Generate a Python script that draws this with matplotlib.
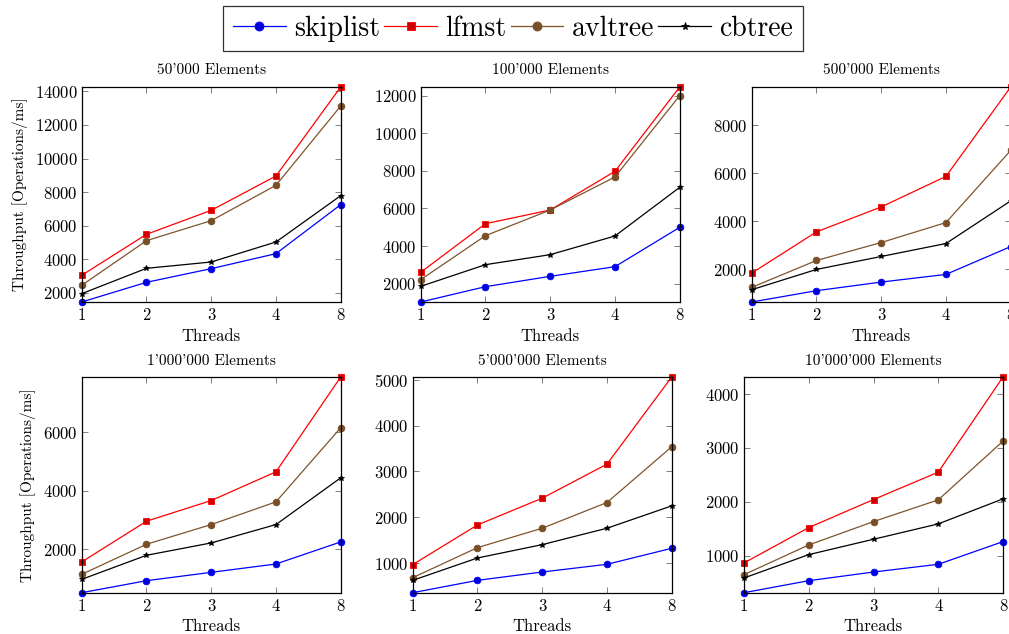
import matplotlib
matplotlib.use("Agg")
import matplotlib.pyplot as plt
from matplotlib.ticker import MultipleLocator

plt.rcParams['font.family'] = ['cmr10', 'DejaVu Serif']
plt.rcParams['axes.formatter.use_mathtext'] = True
plt.rcParams['mathtext.fontset'] = 'cm'

threads = ['1', '2', '3', '4', '8']
titles = ["50'000 Elements", "100'000 Elements", "500'000 Elements",
          "1'000'000 Elements", "5'000'000 Elements", "10'000'000 Elements"]
series_names = ['skiplist', 'lfmst', 'avltree', 'cbtree']

skiplist = [
    [1464, 2635, 3448, 4340, 7255],
    [1025, 1840, 2390, 2904, 4996],
    [646, 1116, 1475, 1793, 2950],
    [518, 928, 1213, 1498, 2251],
    [360, 629, 811, 978, 1327],
    [312, 535, 696, 839, 1260],
]
lfmst = [
    [3051, 5490, 6918, 8960, 14256],
    [2603, 5191, 5918, 7975, 12461],
    [1848, 3562, 4598, 5870, 9587],
    [1567, 2958, 3664, 4645, 7882],
    [971, 1836, 2418, 3160, 5058],
    [864, 1521, 2041, 2550, 4316],
]
avltree = [
    [2456, 5113, 6303, 8405, 13125],
    [2213, 4553, 5918, 7674, 12000],
    [1254, 2373, 3119, 3949, 6950],
    [1145, 2171, 2844, 3619, 6150],
    [687, 1342, 1764, 2324, 3538],
    [647, 1198, 1632, 2035, 3126],
]
cbtree = [
    [1960, 3467, 3844, 5034, 7790],
    [1858, 3011, 3543, 4535, 7124],
    [1157, 2000, 2539, 3078, 4850],
    [974, 1795, 2217, 2844, 4440],
    [629, 1116, 1407, 1764, 2251],
    [585, 1019, 1304, 1589, 2054],
]
ytick_steps = [2000, 2000, 2000, 2000, 1000, 1000]

styles = [
    dict(color=(0, 0, 1), marker='o', mfc=(0, 0, 0.85), mec=(0, 0, 1), ms=4.8),
    dict(color=(1, 0, 0), marker='s', mfc=(0.82, 0, 0), mec=(1, 0, 0), ms=4.6),
    dict(color=(0.5, 0.33, 0.17), marker='o', mfc=(0.48, 0.31, 0.15), mec=(0.45, 0.3, 0.15), ms=4.8),
    dict(color=(0, 0, 0), marker='*', mfc='black', mec='black', ms=4.4),
]

W, H = 1009, 634
fig = plt.figure(figsize=(W / 100, H / 100), dpi=100)

# axes boxes in pixels: (left, top, width, height)
boxes = [
    (81.7, 87, 259, 215), (420.7, 87, 259, 215), (751.7, 87, 259, 215),
    (81.7, 377, 259, 215.7), (412.7, 377, 259, 215.7), (744, 377, 259, 215.7),
]

data_all = [skiplist, lfmst, avltree, cbtree]
handles = []
for i, (l, t, w, h) in enumerate(boxes):
    ax = fig.add_axes([l / W, 1 - (t + h) / H, w / W, h / H])
    hs = []
    for s, st in zip(data_all, styles):
        ln, = ax.plot(threads, s[i], lw=0.9, markeredgewidth=0.6, clip_on=False, **st)
        hs.append(ln)
    if i == 0:
        handles = hs
    vals = [v for s in data_all for v in s[i]]
    ax.set_ylim(min(vals), max(vals))
    ax.set_xlim(0, 4)
    ax.yaxis.set_major_locator(MultipleLocator(ytick_steps[i]))
    ax.tick_params(direction='in', length=4, width=0.7, color=(0.5, 0.5, 0.5),
                   top=True, right=True, labelsize=12, pad=3)
    ax.tick_params(axis='x', pad=4)
    for sp in ax.spines.values():
        sp.set_linewidth(0.9)
    ax.set_title(titles[i], fontsize=11, pad=9)
    ax.set_xlabel('Threads', fontsize=12, labelpad=4)
    if i % 3 == 0:
        ax.set_ylabel('Throughput [Operations/ms]', fontsize=11, labelpad=5)

leg = fig.legend(handles, series_names, loc='center', bbox_to_anchor=(513 / W, 1 - 28.5 / H),
                 ncol=4, fontsize=20, frameon=True, fancybox=False, edgecolor='black',
                 handlelength=1.9, handletextpad=0.3, columnspacing=0.15,
                 borderpad=0.35, borderaxespad=0, markerscale=1.35)
leg.get_frame().set_linewidth(0.9)

fig.savefig('out.png', dpi=100)
